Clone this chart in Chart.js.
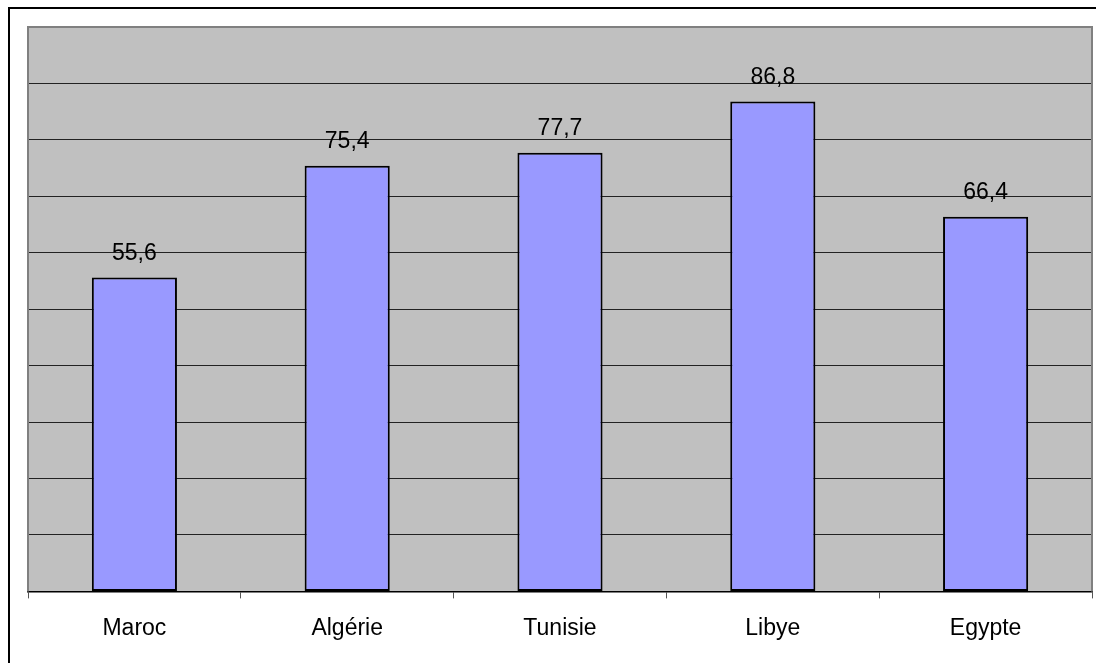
<!DOCTYPE html>
<html>
<head>
<meta charset="utf-8">
<script src="https://cdn.jsdelivr.net/npm/chart.js@4/dist/chart.umd.min.js"></script>
<style>
  html, body { margin: 0; padding: 0; background: #fff; overflow: hidden; }
  #wrap { position: absolute; left: 0; top: 0; width: 1096px; height: 663px; }
</style>
</head>
<body>
<div id="wrap"><canvas id="c" width="1096" height="663"></canvas></div>
<script>
// Countries and their values
const categories = ['Maroc', 'Algérie', 'Tunisie', 'Libye', 'Egypte'];
const values = [55.6, 75.4, 77.7, 86.8, 66.4];
const axisMin = 0;
const axisMax = 100;
const axisStep = 10;

const FONT = '"Liberation Sans", Arial, sans-serif';
const FONT_SIZE = 23;

// French decimal comma
const fmt = v => v.toFixed(1).replace('.', ',');

const framePlugin = {
  id: 'frame',
  beforeDraw(chart) {
    const { ctx, chartArea: a } = chart;
    ctx.save();
    ctx.fillStyle = '#fff';
    ctx.fillRect(0, 0, chart.width, chart.height);
    // outer chart border (left and top edges visible)
    ctx.strokeStyle = '#000';
    ctx.lineWidth = 2;
    ctx.beginPath();
    ctx.moveTo(9, chart.height);
    ctx.lineTo(9, 8);
    ctx.lineTo(chart.width, 8);
    ctx.stroke();
    // plot area fill
    ctx.fillStyle = '#C0C0C0';
    ctx.fillRect(a.left, a.top, a.right - a.left, a.bottom - a.top);
    ctx.restore();
  },
  beforeDatasetsDraw(chart) {
    const { ctx, chartArea: a } = chart;
    ctx.save();
    ctx.strokeStyle = '#808080';
    ctx.lineWidth = 2;
    ctx.beginPath();
    ctx.moveTo(a.left, a.bottom);
    ctx.lineTo(a.left, a.top);
    ctx.lineTo(a.right, a.top);
    ctx.lineTo(a.right, a.bottom);
    ctx.stroke();
    ctx.restore();
  },
  afterDatasetsDraw(chart) {
    const { ctx } = chart;
    const meta = chart.getDatasetMeta(0);
    ctx.save();
    ctx.fillStyle = '#000';
    ctx.font = FONT_SIZE + 'px ' + FONT;
    ctx.textAlign = 'center';
    ctx.textBaseline = 'alphabetic';
    meta.data.forEach((bar, i) => {
      ctx.fillText(fmt(values[i]), bar.x, bar.y - 18);
    });
    ctx.restore();
  }
};

new Chart(document.getElementById('c'), {
  type: 'bar',
  data: {
    labels: categories,
    datasets: [{
      data: values,
      backgroundColor: '#9999FF',
      borderColor: '#000',
      borderWidth: 2,
      borderSkipped: false,
      categoryPercentage: 1.0,
      barPercentage: 0.4
    }]
  },
  options: {
    responsive: false,
    animation: false,
    devicePixelRatio: 1,
    layout: { padding: { left: 28, top: 27, right: 4, bottom: 5 } },
    plugins: { legend: { display: false }, tooltip: { enabled: false } },
    scales: {
      x: {
        grid: {
          display: true,
          drawOnChartArea: false,
          drawTicks: true,
          tickLength: 7,
          color: '#555',
          offset: true
        },
        border: { display: true, color: '#000', width: 1.5 },
        ticks: {
          color: '#000',
          font: { family: FONT, size: FONT_SIZE },
          padding: 16
        }
      },
      y: {
        min: axisMin,
        max: axisMax,
        ticks: { display: false, stepSize: axisStep },
        grid: { color: '#222', lineWidth: 1, drawTicks: false },
        border: { display: false }
      }
    }
  },
  plugins: [framePlugin]
});
</script>
</body>
</html>
